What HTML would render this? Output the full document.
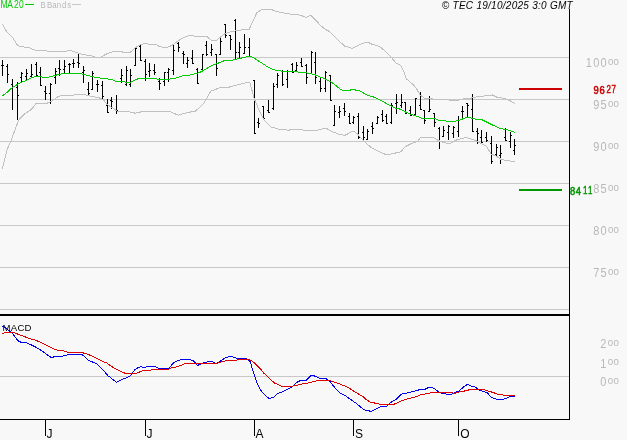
<!DOCTYPE html>
<html><head><meta charset="utf-8"><style>
html,body{margin:0;padding:0;background:#f8f8f8;}
body{width:627px;height:440px;overflow:hidden;}
svg{display:block;}
text{font-family:"Liberation Sans",Arial,sans-serif;}
</style></head><body>
<svg width="627" height="440" viewBox="0 0 627 440" shape-rendering="crispEdges">
<rect x="0" y="0" width="627" height="440" fill="#f8f8f8"/>
<rect x="0" y="57" width="569" height="1" fill="#c8c8c8"/>
<rect x="0" y="99" width="569" height="1" fill="#c8c8c8"/>
<rect x="0" y="141" width="569" height="1" fill="#c8c8c8"/>
<rect x="0" y="183" width="569" height="1" fill="#c8c8c8"/>
<rect x="0" y="225" width="569" height="1" fill="#c8c8c8"/>
<rect x="0" y="267" width="569" height="1" fill="#c8c8c8"/>
<rect x="0" y="309" width="569" height="1" fill="#c8c8c8"/>
<rect x="0" y="376" width="569" height="1" fill="#c8c8c8"/>
<path d="M2 60h1v16h-1zM1 65h1v1h-1zM3 65h1v1h-1zM7 64h1v19h-1zM6 66h1v1h-1zM8 74h1v1h-1zM12 79h1v31h-1zM11 84h1v1h-1zM13 86h1v1h-1zM17 82h1v38h-1zM16 87h1v1h-1zM18 95h1v1h-1zM21 72h1v11h-1zM20 77h1v1h-1zM22 73h1v1h-1zM26 69h1v11h-1zM25 76h1v1h-1zM27 73h1v1h-1zM31 64h1v14h-1zM30 76h1v1h-1zM32 74h1v1h-1zM36 62h1v14h-1zM35 64h1v1h-1zM37 75h1v1h-1zM40 67h1v19h-1zM39 72h1v1h-1zM41 85h1v1h-1zM45 86h1v14h-1zM44 91h1v1h-1zM46 93h1v1h-1zM50 83h1v21h-1zM49 93h1v1h-1zM51 84h1v1h-1zM55 68h1v16h-1zM54 77h1v1h-1zM56 71h1v1h-1zM59 60h1v16h-1zM58 68h1v1h-1zM60 69h1v1h-1zM64 60h1v13h-1zM63 69h1v1h-1zM65 66h1v1h-1zM69 63h1v10h-1zM68 64h1v1h-1zM70 64h1v1h-1zM73 59h1v9h-1zM72 63h1v1h-1zM74 63h1v1h-1zM78 54h1v14h-1zM77 62h1v1h-1zM79 63h1v1h-1zM83 66h1v17h-1zM82 72h1v1h-1zM84 70h1v1h-1zM88 82h1v13h-1zM87 89h1v1h-1zM89 93h1v1h-1zM92 71h1v19h-1zM91 89h1v1h-1zM93 73h1v1h-1zM97 80h1v12h-1zM96 84h1v1h-1zM98 84h1v1h-1zM102 81h1v18h-1zM101 85h1v1h-1zM103 96h1v1h-1zM107 99h1v14h-1zM106 105h1v1h-1zM108 112h1v1h-1zM111 97h1v12h-1zM110 100h1v1h-1zM112 101h1v1h-1zM116 95h1v19h-1zM115 109h1v1h-1zM117 110h1v1h-1zM121 69h1v14h-1zM120 78h1v1h-1zM122 75h1v1h-1zM126 66h1v20h-1zM125 84h1v1h-1zM127 70h1v1h-1zM130 69h1v18h-1zM129 84h1v1h-1zM131 75h1v1h-1zM135 48h1v18h-1zM134 65h1v1h-1zM136 48h1v1h-1zM140 44h1v17h-1zM139 46h1v1h-1zM141 60h1v1h-1zM145 59h1v22h-1zM144 61h1v1h-1zM146 74h1v1h-1zM149 63h1v14h-1zM148 71h1v1h-1zM150 70h1v1h-1zM154 64h1v11h-1zM153 70h1v1h-1zM155 72h1v1h-1zM159 78h1v12h-1zM158 81h1v1h-1zM160 83h1v1h-1zM164 72h1v14h-1zM163 81h1v1h-1zM165 72h1v1h-1zM168 68h1v14h-1zM167 72h1v1h-1zM169 69h1v1h-1zM173 44h1v31h-1zM172 70h1v1h-1zM174 50h1v1h-1zM178 42h1v10h-1zM177 43h1v1h-1zM179 47h1v1h-1zM183 51h1v13h-1zM182 53h1v1h-1zM184 54h1v1h-1zM187 57h1v11h-1zM186 63h1v1h-1zM188 60h1v1h-1zM192 50h1v14h-1zM191 58h1v1h-1zM193 63h1v1h-1zM197 68h1v16h-1zM196 69h1v1h-1zM198 83h1v1h-1zM202 54h1v16h-1zM201 69h1v1h-1zM203 54h1v1h-1zM206 41h1v15h-1zM205 45h1v1h-1zM207 54h1v1h-1zM211 44h1v12h-1zM210 52h1v1h-1zM212 49h1v1h-1zM216 54h1v22h-1zM215 54h1v1h-1zM217 68h1v1h-1zM220 38h1v17h-1zM219 54h1v1h-1zM221 41h1v1h-1zM225 24h1v14h-1zM224 24h1v1h-1zM226 35h1v1h-1zM230 35h1v15h-1zM229 35h1v1h-1zM231 39h1v1h-1zM235 19h1v40h-1zM234 20h1v1h-1zM236 52h1v1h-1zM239 42h1v16h-1zM238 52h1v1h-1zM240 47h1v1h-1zM244 34h1v20h-1zM243 53h1v1h-1zM245 47h1v1h-1zM249 38h1v19h-1zM248 47h1v1h-1zM250 56h1v1h-1zM254 80h1v54h-1zM253 80h1v1h-1zM255 133h1v1h-1zM258 118h1v10h-1zM257 122h1v1h-1zM259 123h1v1h-1zM263 106h1v13h-1zM262 106h1v1h-1zM264 118h1v1h-1zM268 100h1v13h-1zM267 110h1v1h-1zM269 112h1v1h-1zM273 83h1v27h-1zM272 108h1v1h-1zM274 86h1v1h-1zM277 73h1v15h-1zM276 84h1v1h-1zM278 75h1v1h-1zM282 70h1v16h-1zM281 71h1v1h-1zM283 84h1v1h-1zM287 70h1v18h-1zM286 79h1v1h-1zM288 71h1v1h-1zM292 63h1v10h-1zM291 64h1v1h-1zM293 72h1v1h-1zM296 62h1v9h-1zM295 70h1v1h-1zM297 65h1v1h-1zM301 58h1v9h-1zM300 62h1v1h-1zM302 66h1v1h-1zM306 64h1v20h-1zM305 65h1v1h-1zM307 77h1v1h-1zM311 51h1v23h-1zM310 73h1v1h-1zM312 52h1v1h-1zM315 52h1v32h-1zM314 62h1v1h-1zM316 77h1v1h-1zM320 78h1v14h-1zM319 81h1v1h-1zM321 88h1v1h-1zM325 71h1v21h-1zM324 88h1v1h-1zM326 72h1v1h-1zM330 75h1v26h-1zM329 75h1v1h-1zM331 100h1v1h-1zM334 105h1v21h-1zM333 125h1v1h-1zM335 111h1v1h-1zM339 106h1v12h-1zM338 112h1v1h-1zM340 111h1v1h-1zM344 103h1v13h-1zM343 108h1v1h-1zM345 111h1v1h-1zM349 113h1v11h-1zM348 116h1v1h-1zM350 123h1v1h-1zM353 116h1v8h-1zM352 122h1v1h-1zM354 117h1v1h-1zM358 113h1v26h-1zM357 116h1v1h-1zM359 137h1v1h-1zM363 126h1v14h-1zM362 132h1v1h-1zM364 137h1v1h-1zM367 129h1v11h-1zM366 139h1v1h-1zM368 131h1v1h-1zM372 122h1v12h-1zM371 126h1v1h-1zM373 128h1v1h-1zM377 116h1v8h-1zM376 123h1v1h-1zM378 117h1v1h-1zM382 110h1v12h-1zM381 114h1v1h-1zM383 120h1v1h-1zM386 114h1v10h-1zM385 116h1v1h-1zM387 123h1v1h-1zM391 103h1v21h-1zM390 122h1v1h-1zM392 105h1v1h-1zM396 94h1v20h-1zM395 103h1v1h-1zM397 102h1v1h-1zM401 94h1v14h-1zM400 105h1v1h-1zM402 102h1v1h-1zM405 102h1v12h-1zM404 102h1v1h-1zM406 113h1v1h-1zM410 106h1v10h-1zM409 110h1v1h-1zM411 115h1v1h-1zM415 98h1v17h-1zM414 114h1v1h-1zM416 98h1v1h-1zM420 92h1v18h-1zM419 105h1v1h-1zM421 109h1v1h-1zM424 110h1v14h-1zM423 110h1v1h-1zM425 120h1v1h-1zM429 96h1v16h-1zM428 111h1v1h-1zM430 109h1v1h-1zM434 113h1v14h-1zM433 113h1v1h-1zM435 122h1v1h-1zM439 127h1v22h-1zM438 128h1v1h-1zM440 141h1v1h-1zM443 126h1v11h-1zM442 136h1v1h-1zM444 130h1v1h-1zM448 125h1v15h-1zM447 132h1v1h-1zM449 126h1v1h-1zM453 126h1v12h-1zM452 133h1v1h-1zM454 127h1v1h-1zM458 116h1v21h-1zM457 131h1v1h-1zM459 120h1v1h-1zM462 106h1v13h-1zM461 111h1v1h-1zM463 111h1v1h-1zM467 103h1v14h-1zM466 103h1v1h-1zM468 105h1v1h-1zM472 94h1v38h-1zM471 109h1v1h-1zM473 131h1v1h-1zM477 128h1v16h-1zM476 131h1v1h-1zM478 133h1v1h-1zM481 130h1v13h-1zM480 137h1v1h-1zM482 142h1v1h-1zM486 132h1v10h-1zM485 137h1v1h-1zM487 140h1v1h-1zM491 136h1v28h-1zM490 143h1v1h-1zM492 161h1v1h-1zM496 144h1v12h-1zM495 154h1v1h-1zM497 147h1v1h-1zM500 145h1v19h-1zM499 155h1v1h-1zM501 153h1v1h-1zM505 128h1v13h-1zM504 137h1v1h-1zM506 140h1v1h-1zM510 132h1v16h-1zM509 141h1v1h-1zM511 135h1v1h-1zM514 139h1v16h-1zM513 150h1v1h-1zM515 145h1v1h-1z" fill="#000"/>
<polyline points="2.4,24.0 6.4,31.2 13.2,38.5 17.3,44.8 19.5,46.3 23.6,46.9 30.0,48.0 34.5,50.0 40.0,50.2 53.4,51.8 67.0,51.1 69.2,50.1 78.4,53.2 83.5,54.7 90.7,55.7 95.8,57.3 100.9,57.1 105.0,54.7 110.1,52.4 115.2,51.3 120.0,51.4 124.1,52.4 130.2,52.4 135.8,47.5 140.4,44.6 143.5,43.9 155.3,44.2 158.9,46.3 162.9,47.3 168.6,47.0 173.2,44.6 177.3,41.4 181.3,38.8 186.1,36.6 191.2,35.1 195.3,36.4 206.6,36.4 211.7,40.5 216.3,40.5 220.4,37.1 225.0,33.6 230.1,32.0 235.2,31.0 240.0,30.4 243.1,29.3 249.2,29.3 252.3,22.4 256.9,12.7 262.0,9.3 270.7,9.3 275.8,11.3 285.0,13.2 295.2,14.7 300.0,15.1 306.1,17.4 310.7,15.1 315.3,19.7 320.4,25.3 324.5,28.9 329.7,31.7 334.8,36.6 339.9,41.7 344.5,46.0 352.1,48.3 357.3,45.8 363.1,43.2 368.2,42.4 372.3,44.4 376.4,45.2 381.0,47.5 386.6,52.6 391.7,57.7 395.8,62.8 400.9,65.7 403.5,70.8 406.5,79.5 408.1,80.1 413.2,84.7 416.7,88.8 419.8,94.9 425.0,98.5 450.7,100.1 458.9,100.1 465.0,98.3 471.1,98.1 476.0,97.0 488.3,95.5 492.4,95.0 496.4,97.0 504.6,98.6 509.7,100.6 515.0,103.7" fill="none" stroke="#c0c0c0" stroke-width="1"/>
<polyline points="2.3,169.1 7.4,148.9 10.8,141.5 13.3,134.5 18.5,120.4 22.0,116.3 25.6,113.2 29.2,111.0 32.8,107.9 35.9,103.6 42.6,103.6 48.4,102.9 51.5,101.2 54.2,99.4 57.8,96.7 62.2,95.5 70.0,95.4 75.3,94.9 84.5,94.4 88.6,95.7 98.9,97.8 103.0,99.3 107.0,104.4 112.1,107.5 117.3,111.4 120.0,111.1 128.2,111.5 135.3,113.2 144.5,111.1 155.7,111.1 160.8,111.9 169.0,111.1 178.2,115.2 187.3,112.6 195.5,111.1 203.7,103.4 210.8,91.1 214.3,89.8 220.9,87.4 229.1,87.1 237.3,84.9 244.0,83.3 249.7,82.0 254.3,98.9 258.4,108.6 261.5,115.0 264.5,120.6 270.7,126.8 280.9,129.8 289.1,130.1 293.2,129.3 300.0,129.4 304.1,130.2 317.4,130.2 324.5,128.2 326.6,128.4 330.7,131.0 338.9,134.3 345.0,135.3 353.2,131.0 357.3,133.8 361.3,138.4 364.1,141.2 370.2,146.8 378.4,151.4 384.5,154.0 390.7,154.0 400.9,151.9 405.0,146.8 411.1,143.7 417.3,141.7 420.3,137.6 433.3,137.6 439.4,141.0 446.6,143.3 450.7,143.0 456.8,139.9 466.0,137.4 475.2,140.4 481.1,143.4 486.2,146.0 491.3,154.1 496.4,156.2 501.0,159.3 506.7,160.8 515.0,161.3" fill="none" stroke="#c0c0c0" stroke-width="1"/>
<polyline points="2.0,96.2 6.8,92.5 10.2,89.4 12.6,87.4 15.7,85.5 18.4,84.0 21.1,82.6 23.9,81.3 26.6,80.2 30.0,78.5 32.7,77.5 36.0,76.2 40.9,76.4 43.5,77.5 47.0,77.5 51.1,76.4 55.2,75.4 59.3,74.2 64.1,73.5 70.2,73.4 80.4,73.5 83.5,74.4 90.7,76.2 95.8,77.5 105.0,78.5 112.1,79.6 115.7,81.3 121.3,81.3 126.1,82.3 130.2,82.3 139.4,78.2 155.5,78.2 157.5,79.4 168.5,79.3 173.5,78.5 178.0,77.5 183.0,75.8 187.5,75.4 192.5,74.5 197.0,73.3 201.5,71.6 210.7,66.0 216.3,63.9 220.0,62.4 222.5,61.4 225.0,60.5 232.0,60.5 234.5,59.5 239.0,58.5 244.0,57.5 248.0,56.5 250.5,56.5 253.0,57.5 256.0,59.3 262.5,63.5 268.6,67.6 275.3,70.2 282.9,71.2 293.2,71.2 299.3,72.2 304.0,72.5 310.2,73.6 315.3,74.9 324.5,78.7 330.7,81.8 335.8,85.4 338.3,87.8 341.0,89.4 343.0,90.5 350.5,90.5 351.0,89.5 355.5,89.5 356.0,90.5 359.5,90.6 361.0,91.5 364.0,93.4 368.0,95.4 372.0,96.4 380.4,100.0 386.6,103.6 391.7,106.5 395.8,108.2 400.9,109.3 406.0,112.3 411.1,114.4 414.0,115.5 417.5,116.5 420.0,117.4 422.5,118.5 435.5,118.5 437.0,119.5 438.5,120.5 445.5,120.5 447.0,121.5 455.3,121.3 458.9,120.3 464.0,118.5 467.5,117.2 472.1,118.2 477.3,119.8 482.6,120.0 487.2,122.4 492.4,124.9 498.5,127.9 504.6,129.3 509.7,130.3 515.0,132.6" fill="none" stroke="#00cc00" stroke-width="1"/>
<rect x="519" y="88" width="43" height="2" fill="#cc0000"/>
<rect x="519" y="189" width="43" height="2" fill="#009900"/>
<polyline points="2.2,326.2 6.1,328.2 9.7,331.3 12.3,333.3 15.3,337.4 18.9,341.5 21.5,342.3 26.6,343.0 31.7,345.1 35.8,347.1 40.9,350.2 46.0,353.8 50.1,356.9 52.1,357.4 56.2,356.3 60.0,356.7 66.1,355.4 68.2,354.2 80.4,354.2 83.5,355.4 88.6,360.6 93.7,362.4 96.8,363.8 100.9,367.7 105.0,372.3 108.1,375.9 111.1,378.0 113.1,379.8 116.6,382.3 120.2,380.3 125.3,378.2 130.4,375.7 132.0,373.6 134.5,370.1 137.6,368.0 140.7,366.5 143.7,367.5 147.8,366.5 155.0,366.5 158.1,368.0 163.2,368.5 168.8,368.5 171.3,365.4 174.1,362.5 177.2,361.0 181.2,359.4 189.4,359.4 193.5,361.0 197.6,365.4 200.7,364.0 204.8,362.5 209.9,361.5 212.9,362.0 216.0,363.3 219.1,362.0 222.1,359.9 225.2,357.9 229.3,356.4 232.4,356.6 234.1,357.3 237.2,358.3 245.3,358.5 248.4,359.8 250.4,361.9 252.5,369.5 254.6,376.1 257.2,383.3 259.7,388.9 263.3,393.5 266.4,396.4 268.9,398.4 273.5,397.4 277.1,393.7 281.7,392.3 285.8,390.2 288.9,388.4 291.9,386.9 296.0,382.8 300.1,380.7 306.2,380.2 311.3,375.1 312.0,375.2 316.1,376.5 320.2,378.8 325.3,378.3 329.4,380.8 332.5,385.0 336.6,389.5 340.7,393.4 344.8,395.2 348.9,398.2 352.9,401.0 357.0,403.9 361.1,407.4 364.1,409.8 367.2,410.6 371.2,411.3 375.3,409.3 380.4,406.7 386.6,406.2 390.7,402.4 395.8,399.5 401.9,393.9 406.0,393.2 409.1,392.6 413.2,391.4 417.3,390.5 420.3,389.3 425.1,389.3 429.2,387.0 433.3,388.0 438.4,391.6 441.5,393.4 445.6,393.6 447.6,394.7 450.7,394.7 454.8,392.6 458.9,391.1 462.9,387.5 467.5,384.2 471.1,386.0 475.2,387.0 479.3,390.1 483.3,391.5 486.9,392.5 491.5,397.4 494.5,398.4 498.6,399.7 502.7,399.4 506.8,398.1 509.9,396.4 514.8,396.4" fill="none" stroke="#0000ee" stroke-width="1"/>
<polyline points="2.2,333.5 6.1,332.3 10.2,332.1 13.3,332.3 18.4,334.4 22.5,335.9 26.6,337.4 30.7,339.0 35.8,340.3 40.9,342.5 46.0,344.8 51.1,347.7 57.3,350.2 60.0,350.3 63.1,350.8 67.2,352.2 80.4,352.4 84.5,353.2 88.6,354.6 92.7,356.3 96.8,358.3 102.9,361.4 107.0,363.1 110.0,365.4 114.1,368.0 120.2,371.1 125.3,373.4 131.5,373.6 135.6,373.4 140.7,371.6 143.7,370.4 150.9,370.1 152.9,369.3 168.3,369.3 171.3,368.0 174.1,367.4 179.2,366.1 185.3,363.5 195.6,363.5 200.7,363.7 217.0,363.3 220.1,362.3 224.2,361.3 228.3,360.2 236.1,360.3 238.2,359.3 248.4,359.3 252.5,361.4 256.6,364.9 260.7,369.0 263.7,373.1 267.8,376.7 270.9,379.8 275.0,383.3 279.1,384.9 282.1,386.4 291.3,386.4 295.0,385.5 299.1,384.8 303.2,383.8 307.3,383.1 311.3,382.1 314.1,381.6 318.2,380.5 322.3,380.1 329.4,380.3 334.5,382.2 340.7,384.4 345.8,386.5 349.9,388.5 354.0,391.4 359.1,394.4 363.2,396.9 366.2,399.6 370.2,402.1 376.4,403.4 381.5,404.7 392.7,404.7 396.8,403.1 400.9,401.1 405.0,399.5 409.1,398.5 413.2,397.5 417.3,396.5 420.3,394.9 424.1,394.1 428.2,393.4 432.3,392.4 440.4,392.1 450.7,392.4 454.8,393.4 458.9,392.1 462.9,391.4 467.0,390.4 471.1,389.3 483.3,389.2 485.3,390.2 489.4,391.5 493.5,392.5 496.6,394.0 500.7,394.5 504.8,395.4 514.8,395.4" fill="none" stroke="#dd0000" stroke-width="1"/>
<rect x="569" y="9" width="1" height="411" fill="#000"/>
<rect x="0" y="314" width="570" height="2" fill="#000"/>
<rect x="0" y="419" width="570" height="1" fill="#000"/>
<rect x="45" y="419" width="1" height="17" fill="#000"/>
<rect x="145" y="419" width="1" height="17" fill="#000"/>
<rect x="254" y="419" width="1" height="17" fill="#000"/>
<rect x="353" y="419" width="1" height="17" fill="#000"/>
<rect x="458" y="419" width="1" height="17" fill="#000"/>
<rect x="25" y="4" width="9" height="1" fill="#00cc00"/>
<rect x="72" y="4" width="9" height="1" fill="#c8c8c8"/>
<g text-rendering="optimizeSpeed" opacity="0.999">
<text x="573" y="8.6" font-size="10" fill="#000" text-anchor="end" font-weight="normal" font-style="italic" letter-spacing="0.27">© TEC 19/10/2025 3:0 GMT</text>
<text x="2.6" y="331" font-size="9.6" fill="#000" text-anchor="start" font-weight="normal" font-style="normal" letter-spacing="0.2">MACD</text>
<text transform="translate(4.0,8) scale(0.85,1)" x="0" y="0" font-size="10" fill="#00cc00" text-anchor="middle" font-weight="normal">M</text>
<text transform="translate(10.2,8) scale(0.85,1)" x="0" y="0" font-size="10" fill="#00cc00" text-anchor="middle" font-weight="normal">A</text>
<text transform="translate(16.3,8) scale(0.85,1)" x="0" y="0" font-size="10" fill="#00cc00" text-anchor="middle" font-weight="normal">2</text>
<text transform="translate(21.4,8) scale(0.85,1)" x="0" y="0" font-size="10" fill="#00cc00" text-anchor="middle" font-weight="normal">0</text>
<text transform="translate(43.0,8) scale(0.8,1)" x="0" y="0" font-size="9.8" fill="#b8b8b8" text-anchor="middle" font-weight="normal">B</text>
<text transform="translate(49.6,8) scale(0.8,1)" x="0" y="0" font-size="9.8" fill="#b8b8b8" text-anchor="middle" font-weight="normal">B</text>
<text transform="translate(54.5,8) scale(0.8,1)" x="0" y="0" font-size="9.8" fill="#b8b8b8" text-anchor="middle" font-weight="normal">a</text>
<text transform="translate(59.0,8) scale(0.8,1)" x="0" y="0" font-size="9.8" fill="#b8b8b8" text-anchor="middle" font-weight="normal">n</text>
<text transform="translate(64.2,8) scale(0.8,1)" x="0" y="0" font-size="9.8" fill="#b8b8b8" text-anchor="middle" font-weight="normal">d</text>
<text transform="translate(69.1,8) scale(0.8,1)" x="0" y="0" font-size="9.8" fill="#b8b8b8" text-anchor="middle" font-weight="normal">s</text>
<text transform="translate(588.9,66.8) scale(0.92,1)" x="0" y="0" font-size="12" fill="#b8b8b8" text-anchor="middle" font-weight="normal">1</text>
<text transform="translate(596.25,66.8) scale(0.92,1)" x="0" y="0" font-size="12" fill="#b8b8b8" text-anchor="middle" font-weight="normal">0</text>
<text transform="translate(603.6,66.8) scale(0.92,1)" x="0" y="0" font-size="12" fill="#b8b8b8" text-anchor="middle" font-weight="normal">0</text>
<text transform="translate(610.6,64.5) scale(1.08,1)" x="0" y="0" font-size="9" fill="#b8b8b8" text-anchor="middle" font-weight="normal">0</text>
<text transform="translate(616.3,64.5) scale(1.08,1)" x="0" y="0" font-size="9" fill="#b8b8b8" text-anchor="middle" font-weight="normal">0</text>
<text transform="translate(596.25,108.8) scale(0.92,1)" x="0" y="0" font-size="12" fill="#b8b8b8" text-anchor="middle" font-weight="normal">9</text>
<text transform="translate(603.6,108.8) scale(0.92,1)" x="0" y="0" font-size="12" fill="#b8b8b8" text-anchor="middle" font-weight="normal">5</text>
<text transform="translate(610.6,106.5) scale(1.08,1)" x="0" y="0" font-size="9" fill="#b8b8b8" text-anchor="middle" font-weight="normal">0</text>
<text transform="translate(616.3,106.5) scale(1.08,1)" x="0" y="0" font-size="9" fill="#b8b8b8" text-anchor="middle" font-weight="normal">0</text>
<text transform="translate(596.25,150.8) scale(0.92,1)" x="0" y="0" font-size="12" fill="#b8b8b8" text-anchor="middle" font-weight="normal">9</text>
<text transform="translate(603.6,150.8) scale(0.92,1)" x="0" y="0" font-size="12" fill="#b8b8b8" text-anchor="middle" font-weight="normal">0</text>
<text transform="translate(610.6,148.5) scale(1.08,1)" x="0" y="0" font-size="9" fill="#b8b8b8" text-anchor="middle" font-weight="normal">0</text>
<text transform="translate(616.3,148.5) scale(1.08,1)" x="0" y="0" font-size="9" fill="#b8b8b8" text-anchor="middle" font-weight="normal">0</text>
<text transform="translate(596.25,192.8) scale(0.92,1)" x="0" y="0" font-size="12" fill="#b8b8b8" text-anchor="middle" font-weight="normal">8</text>
<text transform="translate(603.6,192.8) scale(0.92,1)" x="0" y="0" font-size="12" fill="#b8b8b8" text-anchor="middle" font-weight="normal">5</text>
<text transform="translate(610.6,190.5) scale(1.08,1)" x="0" y="0" font-size="9" fill="#b8b8b8" text-anchor="middle" font-weight="normal">0</text>
<text transform="translate(616.3,190.5) scale(1.08,1)" x="0" y="0" font-size="9" fill="#b8b8b8" text-anchor="middle" font-weight="normal">0</text>
<text transform="translate(596.25,234.8) scale(0.92,1)" x="0" y="0" font-size="12" fill="#b8b8b8" text-anchor="middle" font-weight="normal">8</text>
<text transform="translate(603.6,234.8) scale(0.92,1)" x="0" y="0" font-size="12" fill="#b8b8b8" text-anchor="middle" font-weight="normal">0</text>
<text transform="translate(610.6,232.5) scale(1.08,1)" x="0" y="0" font-size="9" fill="#b8b8b8" text-anchor="middle" font-weight="normal">0</text>
<text transform="translate(616.3,232.5) scale(1.08,1)" x="0" y="0" font-size="9" fill="#b8b8b8" text-anchor="middle" font-weight="normal">0</text>
<text transform="translate(596.25,276.8) scale(0.92,1)" x="0" y="0" font-size="12" fill="#b8b8b8" text-anchor="middle" font-weight="normal">7</text>
<text transform="translate(603.6,276.8) scale(0.92,1)" x="0" y="0" font-size="12" fill="#b8b8b8" text-anchor="middle" font-weight="normal">5</text>
<text transform="translate(610.6,274.5) scale(1.08,1)" x="0" y="0" font-size="9" fill="#b8b8b8" text-anchor="middle" font-weight="normal">0</text>
<text transform="translate(616.3,274.5) scale(1.08,1)" x="0" y="0" font-size="9" fill="#b8b8b8" text-anchor="middle" font-weight="normal">0</text>
<text transform="translate(603.4,348.09999999999997) scale(0.92,1)" x="0" y="0" font-size="12" fill="#b8b8b8" text-anchor="middle" font-weight="normal">2</text>
<text transform="translate(610.5,345.9) scale(1.08,1)" x="0" y="0" font-size="9" fill="#b8b8b8" text-anchor="middle" font-weight="normal">0</text>
<text transform="translate(616.2,345.9) scale(1.08,1)" x="0" y="0" font-size="9" fill="#b8b8b8" text-anchor="middle" font-weight="normal">0</text>
<text transform="translate(603.4,367.5) scale(0.92,1)" x="0" y="0" font-size="12" fill="#b8b8b8" text-anchor="middle" font-weight="normal">1</text>
<text transform="translate(610.5,365.3) scale(1.08,1)" x="0" y="0" font-size="9" fill="#b8b8b8" text-anchor="middle" font-weight="normal">0</text>
<text transform="translate(616.2,365.3) scale(1.08,1)" x="0" y="0" font-size="9" fill="#b8b8b8" text-anchor="middle" font-weight="normal">0</text>
<text transform="translate(603.4,386.0) scale(0.92,1)" x="0" y="0" font-size="12" fill="#b8b8b8" text-anchor="middle" font-weight="normal">0</text>
<text transform="translate(610.5,383.8) scale(1.08,1)" x="0" y="0" font-size="9" fill="#b8b8b8" text-anchor="middle" font-weight="normal">0</text>
<text transform="translate(616.2,383.8) scale(1.08,1)" x="0" y="0" font-size="9" fill="#b8b8b8" text-anchor="middle" font-weight="normal">0</text>
<text transform="translate(596.2,93.7) scale(0.85,1)" x="0" y="0" font-size="11" fill="#cc0000" text-anchor="middle" font-weight="normal" stroke="#cc0000" stroke-width="0.6">9</text>
<text transform="translate(602.2,93.7) scale(0.85,1)" x="0" y="0" font-size="11" fill="#cc0000" text-anchor="middle" font-weight="normal" stroke="#cc0000" stroke-width="0.6">6</text>
<text transform="translate(608.8,92.9) scale(0.8,1)" x="0" y="0" font-size="10" fill="#cc0000" text-anchor="middle" font-weight="normal" stroke="#cc0000" stroke-width="0.45">2</text>
<text transform="translate(613.7,92.9) scale(0.8,1)" x="0" y="0" font-size="10" fill="#cc0000" text-anchor="middle" font-weight="normal" stroke="#cc0000" stroke-width="0.45">7</text>
<text transform="translate(572.6,195.1) scale(0.85,1)" x="0" y="0" font-size="11" fill="#009900" text-anchor="middle" font-weight="normal" stroke="#009900" stroke-width="0.6">8</text>
<text transform="translate(578.3,195.1) scale(0.85,1)" x="0" y="0" font-size="11" fill="#009900" text-anchor="middle" font-weight="normal" stroke="#009900" stroke-width="0.6">4</text>
<text transform="translate(585.3,194.1) scale(0.8,1)" x="0" y="0" font-size="10" fill="#009900" text-anchor="middle" font-weight="normal" stroke="#009900" stroke-width="0.45">1</text>
<text transform="translate(590.1,194.1) scale(0.8,1)" x="0" y="0" font-size="10" fill="#009900" text-anchor="middle" font-weight="normal" stroke="#009900" stroke-width="0.45">1</text>
<text x="46.5" y="438" font-size="12" fill="#000" text-anchor="start" font-weight="normal" font-style="normal" letter-spacing="0">J</text>
<text x="146.5" y="438" font-size="12" fill="#000" text-anchor="start" font-weight="normal" font-style="normal" letter-spacing="0">J</text>
<text x="255.5" y="438" font-size="12" fill="#000" text-anchor="start" font-weight="normal" font-style="normal" letter-spacing="0">A</text>
<text x="355" y="438" font-size="12" fill="#000" text-anchor="start" font-weight="normal" font-style="normal" letter-spacing="0">S</text>
<text x="460.3" y="438" font-size="12" fill="#000" text-anchor="start" font-weight="normal" font-style="normal" letter-spacing="0">O</text>
</g>
</svg>
</body></html>
